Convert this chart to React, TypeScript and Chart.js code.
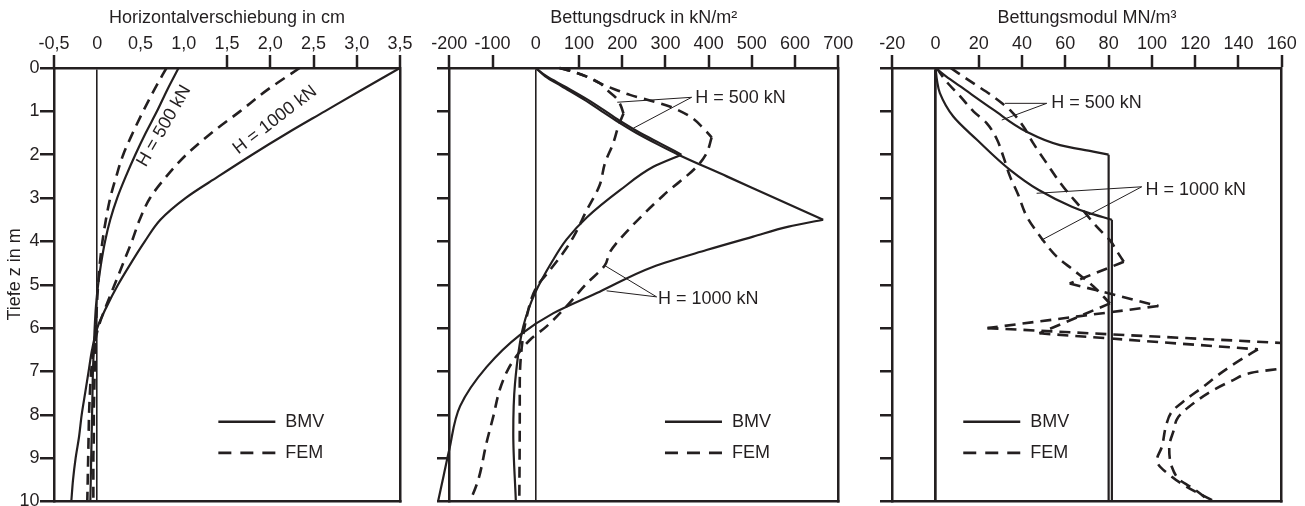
import { useEffect, useRef } from 'react';
import { Chart, registerables } from 'chart.js';

Chart.register(...registerables);

// ---------------- data ----------------
const Y_VALUES = [0, 1, 2, 3, 4, 5, 6, 7, 8, 9, 10];
const Y_LABELS = ['0', '1', '2', '3', '4', '5', '6', '7', '8', '9', '10'];

// Panel 1: Horizontalverschiebung in cm
const P1_X_LABELS = ['-0,5', '0', '0,5', '1,0', '1,5', '2,0', '2,5', '3,0', '3,5'];
const P1_DEPTH = [0, 0.5, 1, 1.5, 2, 2.5, 3, 3.5, 4, 4.5, 5, 5.5, 6, 6.5, 7, 7.5, 8, 8.5, 9, 9.5, 10];
const P1_BMV_500 = [0.94, 0.81, 0.69, 0.56, 0.44, 0.33, 0.23, 0.15, 0.09, 0.045, 0.01, -0.015, -0.03, -0.04, -0.05, -0.055, -0.06, -0.065, -0.07, -0.075, -0.08];
const P1_FEM_500 = [0.8, 0.66, 0.53, 0.41, 0.3, 0.22, 0.15, 0.1, 0.06, 0.03, 0.01, -0.005, -0.015, -0.025, -0.03, -0.035, -0.04, -0.04, -0.045, -0.045, -0.045];
const P1_BMV_1000 = [3.5, 3.06, 2.63, 2.2, 1.79, 1.4, 1.02, 0.73, 0.55, 0.39, 0.24, 0.11, 0.0, -0.06, -0.1, -0.14, -0.18, -0.21, -0.25, -0.28, -0.3];
const P1_FEM_1000 = [2.34, 1.97, 1.65, 1.32, 1.03, 0.8, 0.61, 0.49, 0.4, 0.3, 0.2, 0.1, 0.01, -0.04, -0.07, -0.085, -0.095, -0.1, -0.105, -0.11, -0.115];

// Panel 2: Bettungsdruck in kN/m²
const P2_X_LABELS = ['-200', '-100', '0', '100', '200', '300', '400', '500', '600', '700'];
const P2_BMV_500_Z = [0, 0.19, 0.42, 0.73, 1.0, 1.24, 1.5, 1.75, 2.0, 2.28, 2.82, 3.45, 3.96, 4.43, 5.2, 5.97, 7.28, 8.43, 10];
const P2_BMV_500_V = [0, 25, 66, 120, 162, 198, 242, 290, 337, 272, 195, 118, 71, 40, -2, -29, -48, -52, -46];
const P2_BMV_500_CORNERS = [2.0];
const P2_BMV_1000_Z = [0, 0.19, 0.42, 0.73, 1.0, 1.24, 1.5, 1.75, 2.0, 2.5, 3.0, 3.5, 3.66, 3.89, 4.2, 4.585, 5.16, 5.66, 6.16, 6.9, 7.8, 8.8, 9.4, 10];
const P2_BMV_1000_V = [0, 22, 60, 112, 153, 190, 233, 280, 330, 442, 553, 665, 585, 503, 395, 272, 148, 40, -37, -114, -175, -200, -213, -226];
const P2_BMV_1000_CORNERS = [3.5];
const P2_FEM_500_Z = [0, 0.09, 0.2, 0.35, 0.5, 0.7, 0.85, 1.05, 1.35, 1.74, 2.2, 2.7, 3.3, 3.9, 4.2, 4.66, 5.05, 5.74, 6.5, 7.3, 8.0, 10];
const P2_FEM_500_V = [55, 88, 118, 148, 164, 187, 196, 203, 191, 179, 160, 148, 117, 87, 68, 33, 2, -21, -33, -37, -37, -38];
const P2_FEM_500_CORNERS = [1.05];
const P2_FEM_1000_Z = [0, 0.09, 0.2, 0.35, 0.5, 0.62, 0.75, 0.89, 1.12, 1.39, 1.6, 1.97, 2.28, 2.94, 3.78, 4.24, 4.55, 4.97, 5.5, 5.96, 6.27, 6.65, 6.95, 7.41, 8.03, 8.65, 9.5, 10];
const P2_FEM_1000_V = [55, 88, 118, 148, 185, 218, 264, 310, 357, 388, 407, 395, 372, 295, 210, 172, 160, 118, 71, 25, -13, -45, -64, -83, -98, -114, -133, -152];
const P2_FEM_1000_CORNERS = [1.6];

// Panel 3: Bettungsmodul MN/m³
const P3_X_LABELS = ['-20', '0', '20', '40', '60', '80', '100', '120', '140', '160'];
const P3_BMV_500_Z = [0, 0.2, 0.42, 0.96, 1.47, 1.78, 1.93, 2.0, 10];
const P3_BMV_500_V = [0, 5, 11.3, 26.7, 42.1, 57.5, 72.9, 80, 80];
const P3_BMV_500_CORNERS = [2.0];
const P3_BMV_1000_Z = [0, 0.3, 0.58, 1.12, 1.65, 2.35, 2.81, 3.2, 3.33, 3.5, 10];
const P3_BMV_1000_V = [0, 0.7, 2, 8.2, 19, 34.4, 47.5, 63, 70, 81.5, 81.5];
const P3_BMV_1000_CORNERS = [3.5];
const P3_FEM_500_Z = [0, 0.35, 0.66, 1.0, 1.35, 1.74, 2.2, 2.74, 3.2, 3.66, 4.0, 4.2, 4.47, 4.97, 5.49, 6.0, 6.48, 6.93, 7.03, 7.2, 7.43, 7.74, 8.05, 8.39, 8.74, 9.2, 9.51, 9.7, 10];
const P3_FEM_500_V = [7, 17.4, 26.7, 35, 40.6, 45.2, 51.4, 59, 66.8, 74.5, 81, 83.5, 87, 62, 103, 24, 215, 160, 146, 137.6, 128.4, 119.1, 112.2, 109.9, 108, 109.2, 113, 119.1, 127];
const P3_FEM_500_CORNERS = [4.47, 4.97, 5.49, 6.0, 6.48];
const P3_FEM_1000_Z = [0, 0.31, 0.65, 1.0, 1.27, 1.65, 2.04, 2.5, 2.9, 3.42, 3.88, 4.35, 4.66, 5.04, 5.43, 6.12, 6.49, 6.74, 7.05, 7.35, 7.66, 7.93, 8.24, 8.74, 9.05, 9.43, 9.66, 10];
const P3_FEM_1000_V = [0.5, 5, 11.3, 17.5, 23.6, 28.4, 31.3, 34.4, 38, 42.1, 48.3, 56, 63.7, 73, 80.6, 48, 149, 140.7, 131.5, 123.8, 115.4, 109.2, 106.6, 104.6, 102.3, 109.2, 116.1, 129];
const P3_FEM_1000_CORNERS = [5.43, 6.12, 6.49];

const LEGEND_LABELS = ['BMV', 'FEM'];

// ---------------- annotations (data coordinates) ----------------
const P1_TEXTS = [
  { text: 'H = 500 kN', v: 0.772, z: 1.34, angle: -60, align: 'center' },
  { text: 'H = 1000 kN', v: 2.055, z: 1.2, angle: -37.7, align: 'center' },
  { text: 'Tiefe z in m', v: -0.951, z: 4.76, angle: -90, align: 'center' },
];
const P2_TEXTS = [
  { text: 'H = 500 kN', v: 369, z: 0.7, angle: 0, align: 'left' },
  { text: 'H = 1000 kN', v: 283, z: 5.33, angle: 0, align: 'left' },
];
const P3_TEXTS = [
  { text: 'H = 500 kN', v: 53.5, z: 0.81, angle: 0, align: 'left' },
  { text: 'H = 1000 kN', v: 97, z: 2.81, angle: 0, align: 'left' },
];
const P2_LEADERS = [
  [360.7, 0.676, 188.6, 0.79],
  [360.7, 0.676, 225.6, 1.39],
  [279.7, 5.28, 160.1, 4.56],
  [279.7, 5.28, 163.9, 5.14],
];
const P3_LEADERS = [
  [51.4, 0.815, 32.1, 0.815],
  [51.4, 0.815, 30.6, 1.2],
  [95.3, 2.74, 46.7, 2.89],
  [95.3, 2.74, 49.0, 3.97],
];

// ---------------- styling / layout ----------------
const W = 1305;
const H = 506;
const TOP = 68;
const BOTTOM = 501.5;
const INK = '#231f20';
const FAMILY = '"Liberation Sans", Arial, Helvetica, sans-serif';
const SIZE = 18;
const DASH = [11, 7];
const LEGEND_DASH = [13, 9];

Chart.defaults.font.family = FAMILY;

type Pt = { x: number; y: number };

function splitAt(z: number[], v: number[], corners: number[]): Pt[][] {
  const out: Pt[][] = [];
  let cur: Pt[] = [];
  for (let i = 0; i < z.length; i++) {
    const p = { x: v[i], y: z[i] };
    cur.push(p);
    if (i < z.length - 1 && corners.some((c) => Math.abs(c - z[i]) < 1e-9)) {
      out.push(cur);
      cur = [p];
    }
  }
  out.push(cur);
  return out;
}

const ser = (z: number[], v: number[], corners: number[], dashed: boolean) => ({ z, v, corners, dashed });

const PANELS = [
  {
    chartLeft: 54, chartRight: 400, yWidth: 54, yTickLen: 14, showYLabels: true,
    xMin: -0.5, xMax: 3.5, xStep: 0.5, xLabels: P1_X_LABELS, xTitle: 'Horizontalverschiebung in cm',
    hiddenTicks: [0, 0.5, 1.0], zeroWidth: 1.6, noClip: false,
    series: [
      ser(P1_DEPTH, P1_BMV_500, [], false),
      ser(P1_DEPTH, P1_FEM_500, [], true),
      ser(P1_DEPTH, P1_BMV_1000, [], false),
      ser(P1_DEPTH, P1_FEM_1000, [], true),
    ],
    legend: { v: 1.4, z: [8.16, 8.88] },
    texts: P1_TEXTS, leaders: [] as number[][],
  },
  {
    chartLeft: 449.3, chartRight: 838.3, yWidth: 12.3, yTickLen: 12.3, showYLabels: false,
    xMin: -200, xMax: 700, xStep: 100, xLabels: P2_X_LABELS, xTitle: 'Bettungsdruck in kN/m²',
    hiddenTicks: [0], zeroWidth: 1.6, noClip: true,
    series: [
      ser(P2_BMV_500_Z, P2_BMV_500_V, P2_BMV_500_CORNERS, false),
      ser(P2_BMV_1000_Z, P2_BMV_1000_V, P2_BMV_1000_CORNERS, false),
      ser(P2_FEM_500_Z, P2_FEM_500_V, P2_FEM_500_CORNERS, true),
      ser(P2_FEM_1000_Z, P2_FEM_1000_V, P2_FEM_1000_CORNERS, true),
    ],
    legend: { v: 299, z: [8.16, 8.88] },
    texts: P2_TEXTS, leaders: P2_LEADERS,
  },
  {
    chartLeft: 892.3, chartRight: 1281.7, yWidth: 12.3, yTickLen: 12.3, showYLabels: false,
    xMin: -20, xMax: 160, xStep: 20, xLabels: P3_X_LABELS, xTitle: 'Bettungsmodul MN/m³',
    hiddenTicks: [0], zeroWidth: 2.7, noClip: false,
    series: [
      ser(P3_BMV_500_Z, P3_BMV_500_V, P3_BMV_500_CORNERS, false),
      ser(P3_BMV_1000_Z, P3_BMV_1000_V, P3_BMV_1000_CORNERS, false),
      ser(P3_FEM_500_Z, P3_FEM_500_V, P3_FEM_500_CORNERS, true),
      ser(P3_FEM_1000_Z, P3_FEM_1000_V, P3_FEM_1000_CORNERS, true),
    ],
    legend: { v: 12.8, z: [8.16, 8.88] },
    texts: P3_TEXTS, leaders: P3_LEADERS,
  },
];

function makeDecor(p: any) {
  return {
    id: 'decor',
    afterDatasetsDraw(chart: any) {
      const ctx = chart.ctx as CanvasRenderingContext2D;
      const xs = chart.scales.x;
      const ys = chart.scales.y;
      const X = (v: number) => xs.getPixelForValue(v);
      const Y = (z: number) => ys.getPixelForValue(z);
      ctx.save();
      ctx.strokeStyle = INK;
      ctx.fillStyle = INK;
      ctx.setLineDash([]);
      ctx.lineWidth = 1;
      p.leaders.forEach((l: number[]) => {
        ctx.beginPath();
        ctx.moveTo(X(l[0]), Y(l[1]));
        ctx.lineTo(X(l[2]), Y(l[3]));
        ctx.stroke();
      });
      ctx.font = `${SIZE}px ${FAMILY}`;
      ctx.textBaseline = 'middle';
      p.texts.forEach((t: any) => {
        ctx.save();
        ctx.translate(X(t.v), Y(t.z));
        ctx.rotate((t.angle * Math.PI) / 180);
        ctx.textAlign = t.align;
        ctx.fillText(t.text, 0, 0);
        ctx.restore();
      });
      const lx = X(p.legend.v);
      LEGEND_LABELS.forEach((label, i) => {
        const y = Y(p.legend.z[i]);
        const dashed = i === 1;
        ctx.lineWidth = 2.7;
        ctx.setLineDash(dashed ? LEGEND_DASH : []);
        ctx.beginPath();
        ctx.moveTo(lx, y);
        ctx.lineTo(lx + 57, y);
        ctx.stroke();
        ctx.setLineDash([]);
        ctx.textAlign = 'left';
        ctx.fillText(label, lx + 67, y);
      });
      ctx.restore();
    },
  };
}

function buildConfig(p: any) {
  const datasets: any[] = [];
  p.series.forEach((s: any) => {
    splitAt(s.z, s.v, s.corners).forEach((pts) => {
      const ds: any = {
        data: pts,
        xAxisID: 'x',
        yAxisID: 'y',
        borderColor: INK,
        backgroundColor: INK,
        borderWidth: s.dashed ? 2.6 : 2.2,
        borderDash: s.dashed ? DASH : [],
        borderCapStyle: 'butt',
        borderJoinStyle: 'round',
        pointRadius: 0,
        pointHoverRadius: 0,
        fill: false,
        cubicInterpolationMode: 'monotone',
      };
      if (p.noClip) ds.clip = false;
      datasets.push(ds);
    });
  });
  const font = { family: FAMILY, size: SIZE };
  const near = (a: number, b: number) => Math.abs(a - b) < 1e-9;
  return {
    type: 'line',
    data: { datasets },
    options: {
      animation: false,
      responsive: false,
      maintainAspectRatio: false,
      indexAxis: 'y',
      events: [],
      layout: { padding: { left: p.chartLeft - p.yWidth, right: W - p.chartRight, top: 0, bottom: H - BOTTOM } },
      elements: { line: { capBezierPoints: false }, point: { radius: 0 } },
      plugins: { legend: { display: false }, tooltip: { enabled: false } },
      scales: {
        x: {
          type: 'linear', axis: 'x', position: 'top', min: p.xMin, max: p.xMax,
          ticks: {
            stepSize: p.xStep, autoSkip: false, maxRotation: 0, minRotation: 0, padding: 0,
            color: INK, font, callback: (_v: any, i: number) => p.xLabels[i],
          },
          grid: {
            display: true, drawOnChartArea: true, drawTicks: true, tickLength: 13, color: INK,
            lineWidth: (c: any) => (c.tick && near(c.tick.value, 0) ? p.zeroWidth : 0),
            tickColor: INK,
            tickWidth: (c: any) => (c.tick && p.hiddenTicks.some((h: number) => near(h, c.tick.value)) ? 0 : 2.5),
          },
          border: { display: true, color: INK, width: 2.5 },
          title: { display: true, text: p.xTitle, color: INK, font, padding: { top: 7, bottom: 0 } },
          afterFit: (s: any) => { s.height = TOP; s.paddingLeft = 0; s.paddingRight = 0; },
        },
        y: {
          type: 'linear', axis: 'y', position: 'left', reverse: true, min: 0, max: 10,
          ticks: {
            display: p.showYLabels, stepSize: 1, padding: 0.5, color: INK, font,
            callback: (v: number) => {
              const k = Y_VALUES.findIndex((y) => near(y, v));
              return k >= 0 ? Y_LABELS[k] : '';
            },
          },
          grid: {
            display: true, drawOnChartArea: false, drawTicks: true, tickLength: p.yTickLen,
            color: INK, lineWidth: 2.5, tickColor: INK, tickWidth: 2.5,
          },
          border: { display: true, color: INK, width: 2.5 },
          afterFit: (s: any) => { s.width = p.yWidth; s.paddingTop = 0; s.paddingBottom = 0; },
        },
        x2: {
          type: 'linear', axis: 'x', position: 'bottom', min: p.xMin, max: p.xMax,
          ticks: { display: false },
          grid: { display: false, drawTicks: false, lineWidth: 2.5 },
          border: { display: true, color: INK, width: 2.5 },
          afterFit: (s: any) => { s.height = 0; s.paddingLeft = 0; s.paddingRight = 0; },
        },
        y2: {
          type: 'linear', axis: 'y', position: 'right', reverse: true, min: 0, max: 10,
          ticks: { display: false },
          grid: { display: false, drawTicks: false, lineWidth: 2.5 },
          border: { display: true, color: INK, width: 2.5 },
          afterFit: (s: any) => { s.width = 0; s.paddingTop = 0; s.paddingBottom = 0; },
        },
      },
    },
    plugins: [makeDecor(p)],
  };
}

function Panel({ def }: { def: any }) {
  const ref = useRef<HTMLCanvasElement>(null);
  useEffect(() => {
    const chart = new Chart(ref.current as HTMLCanvasElement, buildConfig(def) as any);
    return () => chart.destroy();
  }, [def]);
  return (
    <canvas
      ref={ref}
      width={W}
      height={H}
      style={{ position: 'absolute', left: 0, top: 0, width: W, height: H }}
    />
  );
}

export default function App() {
  return (
    <div style={{ position: 'absolute', left: 0, top: 0, width: W, height: H, overflow: 'hidden', background: '#ffffff' }}>
      {PANELS.map((p, i) => (
        <Panel key={i} def={p} />
      ))}
    </div>
  );
}
